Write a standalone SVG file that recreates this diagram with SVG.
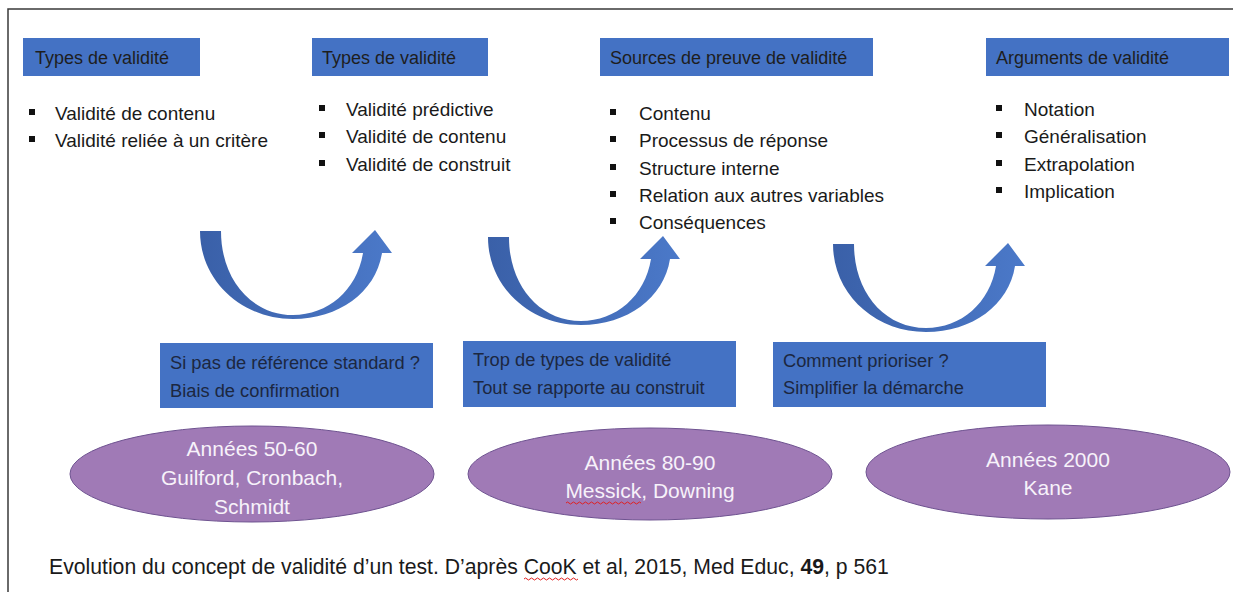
<svg xmlns="http://www.w3.org/2000/svg" width="1233" height="592" viewBox="0 0 1233 592">
  <defs>
    <linearGradient id="arrowGrad" x1="0" y1="0" x2="1" y2="0">
      <stop offset="0" stop-color="#3A60A8"/>
      <stop offset="1" stop-color="#4B79C9"/>
    </linearGradient>
    <path id="curvedArrow" d="M 200,231 C 200,281 242,319 293,319 C 339,319 376,292 382,253 L 392,253 L 375,230 L 352,253 L 363,253 C 357,290 328,315 293,315 C 252,315 221,280 221,231 Z"/>
  </defs>
  <style>
    text { font-family: "Liberation Sans", Arial, sans-serif; }
    .title-box { fill: #4472C4; }
    .title-text { font-size: 18px; fill: #1e1e1e; }
    .body { font-size: 19px; fill: #1a1a1a; }
    .bullet { fill: #111; }
    .note-box { fill: #4472C4; }
    .note-text { font-size: 18.3px; fill: #1c2740; }
    .era { fill: #A07AB6; stroke: #6E5290; stroke-width: 1; }
    .era-text { font-size: 21px; fill: #F7F2FA; text-anchor: middle; }
    .arrow { fill: url(#arrowGrad); }
    .squiggle { fill: none; stroke: #E02020; stroke-width: 1; }
    .caption { font-size: 21.2px; fill: #1a1a1a; }
  </style>

  <rect x="0" y="0" width="1233" height="592" fill="#FFFFFF"/>
  <!-- frame -->
  <path d="M 8,592 L 8,9 L 1233,9" fill="none" stroke="#3a3a3a" stroke-width="1.5"/>

  <!-- Column 1 -->
  <g id="col1">
    <rect class="title-box" x="23" y="38" width="177" height="38"/>
    <text class="title-text" x="35" y="64">Types de validité</text>
    <rect class="bullet" x="29" y="109" width="6" height="6"/>
    <text class="body" x="55" y="120">Validité de contenu</text>
    <rect class="bullet" x="29" y="136" width="6" height="6"/>
    <text class="body" x="55" y="147">Validité reliée à un critère</text>
  </g>

  <!-- Column 2 -->
  <g id="col2">
    <rect class="title-box" x="312" y="38" width="176" height="38"/>
    <text class="title-text" x="322" y="64">Types de validité</text>
    <rect class="bullet" x="319" y="105" width="6" height="6"/>
    <text class="body" x="346" y="116">Validité prédictive</text>
    <rect class="bullet" x="319" y="132" width="6" height="6"/>
    <text class="body" x="346" y="143">Validité de contenu</text>
    <rect class="bullet" x="319" y="160" width="6" height="6"/>
    <text class="body" x="346" y="171">Validité de construit</text>
  </g>

  <!-- Column 3 -->
  <g id="col3">
    <rect class="title-box" x="600" y="38" width="273" height="38"/>
    <text class="title-text" x="610" y="64">Sources de preuve de validité</text>
    <rect class="bullet" x="610" y="109" width="6" height="6"/>
    <text class="body" x="639" y="120">Contenu</text>
    <rect class="bullet" x="610" y="136" width="6" height="6"/>
    <text class="body" x="639" y="147">Processus de réponse</text>
    <rect class="bullet" x="610" y="164" width="6" height="6"/>
    <text class="body" x="639" y="175">Structure interne</text>
    <rect class="bullet" x="610" y="191" width="6" height="6"/>
    <text class="body" x="639" y="202">Relation aux autres variables</text>
    <rect class="bullet" x="610" y="218" width="6" height="6"/>
    <text class="body" x="639" y="229">Conséquences</text>
  </g>

  <!-- Column 4 -->
  <g id="col4">
    <rect class="title-box" x="986" y="38" width="243" height="38"/>
    <text class="title-text" x="996" y="64">Arguments de validité</text>
    <rect class="bullet" x="996" y="105" width="6" height="6"/>
    <text class="body" x="1024" y="116">Notation</text>
    <rect class="bullet" x="996" y="132" width="6" height="6"/>
    <text class="body" x="1024" y="143">Généralisation</text>
    <rect class="bullet" x="996" y="160" width="6" height="6"/>
    <text class="body" x="1024" y="171">Extrapolation</text>
    <rect class="bullet" x="996" y="187" width="6" height="6"/>
    <text class="body" x="1024" y="198">Implication</text>
  </g>

  <!-- connectors (curved arrows) -->
  <g id="connectors">
    <use href="#curvedArrow" class="arrow"/>
    <use href="#curvedArrow" class="arrow" transform="translate(288,6)"/>
    <use href="#curvedArrow" class="arrow" transform="translate(633,13)"/>
  </g>

  <!-- Note boxes -->
  <g id="note1">
    <rect class="note-box" x="160" y="343" width="273" height="65"/>
    <text class="note-text" x="170" y="369">Si pas de référence standard ?</text>
    <text class="note-text" x="170" y="397">Biais de confirmation</text>
  </g>
  <g id="note2">
    <rect class="note-box" x="463" y="341" width="273" height="66"/>
    <text class="note-text" x="473" y="366">Trop de types de validité</text>
    <text class="note-text" x="473" y="394">Tout se rapporte au construit</text>
  </g>
  <g id="note3">
    <rect class="note-box" x="773" y="342" width="273" height="65"/>
    <text class="note-text" x="783" y="367">Comment prioriser ?</text>
    <text class="note-text" x="783" y="394">Simplifier la démarche</text>
  </g>

  <!-- Era ellipses -->
  <g id="era1">
    <ellipse class="era" cx="252" cy="474" rx="182" ry="48"/>
    <text class="era-text" x="252" y="456">Années 50-60</text>
    <text class="era-text" x="252" y="485">Guilford, Cronbach,</text>
    <text class="era-text" x="252" y="514">Schmidt</text>
  </g>
  <g id="era2">
    <ellipse class="era" cx="650" cy="474" rx="182" ry="46"/>
    <text class="era-text" x="650" y="470">Années 80-90</text>
    <text class="era-text" x="650" y="498">Messick, Downing</text>
    <path class="squiggle" d="M 566,503 q 1.5,-2 3,0 t 3,0 t 3,0 t 3,0 t 3,0 t 3,0 t 3,0 t 3,0 t 3,0 t 3,0 t 3,0 t 3,0 t 3,0 t 3,0 t 3,0 t 3,0 t 3,0 t 3,0 t 3,0 t 3,0 t 3,0 t 3,0 t 3,0 t 3,0 t 3,0"/>
  </g>
  <g id="era3">
    <ellipse class="era" cx="1048" cy="472" rx="182" ry="47"/>
    <text class="era-text" x="1048" y="467">Années 2000</text>
    <text class="era-text" x="1048" y="495">Kane</text>
  </g>

  <!-- Caption -->
  <g id="caption">
    <text class="caption" x="49" y="574">Evolution du concept de validité d’un test. D’après CooK et al, 2015, Med Educ, <tspan font-weight="bold">49</tspan>, p 561</text>
    <path class="squiggle" d="M 524,579 q 1.5,-2 3,0 t 3,0 t 3,0 t 3,0 t 3,0 t 3,0 t 3,0 t 3,0 t 3,0 t 3,0 t 3,0 t 3,0 t 3,0 t 3,0 t 3,0 t 3,0 t 3,0 t 3,0"/>
  </g>
</svg>
